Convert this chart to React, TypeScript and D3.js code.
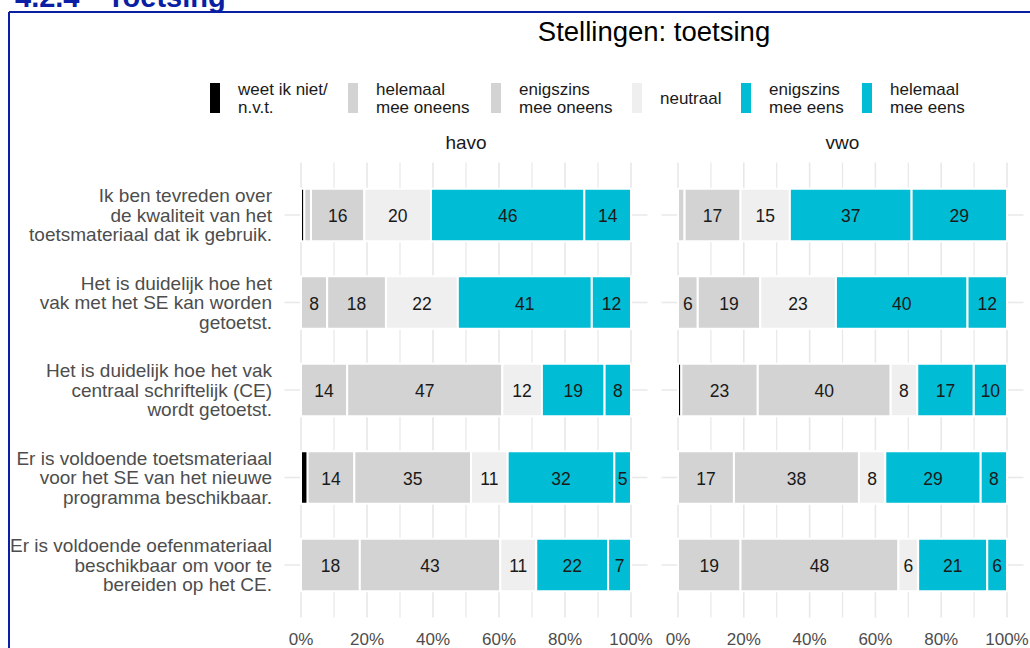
import React from "react";
import * as d3 from "d3";

const statements = [
  "Ik ben tevreden over\nde kwaliteit van het\ntoetsmateriaal dat ik gebruik.",
  "Het is duidelijk hoe het\nvak met het SE kan worden\ngetoetst.",
  "Het is duidelijk hoe het vak\ncentraal schriftelijk (CE)\nwordt getoetst.",
  "Er is voldoende toetsmateriaal\nvoor het SE van het nieuwe\nprogramma beschikbaar.",
  "Er is voldoende oefenmateriaal\nbeschikbaar om voor te\nbereiden op het CE.",
];

const categories = [
  "weet ik niet/\nn.v.t.",
  "helemaal\nmee oneens",
  "enigszins\nmee oneens",
  "neutraal",
  "enigszins\nmee eens",
  "helemaal\nmee eens",
];

const categoryColors = ["#000000", "#d3d3d3", "#d3d3d3", "#efefef", "#00bcd4", "#00bcd4"];

const groups = ["havo", "vwo"];

// rows = statements, columns = categories
const havoValues = [
  [1, 2, 16, 20, 46, 14],
  [0, 8, 18, 22, 41, 12],
  [0, 14, 47, 12, 19, 8],
  [2, 14, 35, 11, 32, 5],
  [0, 18, 43, 11, 22, 7],
];

const vwoValues = [
  [0, 2, 17, 15, 37, 29],
  [0, 6, 19, 23, 40, 12],
  [1, 23, 40, 8, 17, 10],
  [0, 17, 38, 8, 29, 8],
  [0, 19, 48, 6, 21, 6],
];

const xTicks = [0, 20, 40, 60, 80, 100];
const xMinor = [10, 30, 50, 70, 90];

const W = 1030;
const H = 648;
const FONT = "'Liberation Sans', Arial, sans-serif";

const panels = [
  { name: groups[0], values: havoValues, x0: 301, x1: 631 },
  { name: groups[1], values: vwoValues, x0: 678, x1: 1007 },
];

const panelTop = 162.5;
const panelBottom = 617.5;

const legendKeyX = [210, 348, 491, 632, 741, 862];

export default function App() {
  const y = d3.scalePoint<string>().domain(statements).range([panelTop, panelBottom]).padding(0.6);
  const step = y.step();
  const barH = step * 0.6;

  return (
    <div style={{ position: "fixed", left: 0, top: 0 }}>
      <svg width={W} height={H} style={{ display: "block", background: "#fff" }} fontFamily={FONT}>
        {/* document heading (clipped) */}
        <text x={15} y={7} fontSize={29} fontWeight="bold" fill="#0a1fa3">4.2.4</text>
        <text x={107} y={7} fontSize={29} fontWeight="bold" fill="#0a1fa3">Toetsing</text>
        <line x1={9} x2={W} y1={12} y2={12} stroke="#0a1fa3" strokeWidth={2} />
        <line x1={9} x2={9} y1={12} y2={H} stroke="#0a1fa3" strokeWidth={2} />

        {/* title */}
        <text x={654} y={41} fontSize={27.5} textAnchor="middle" fill="#000">Stellingen: toetsing</text>

        {/* legend */}
        {categories.map((c, i) => {
          const lines = c.split("\n");
          const kx = legendKeyX[i];
          return (
            <g key={c}>
              <rect x={kx} y={83} width={10} height={30} fill={categoryColors[i]} />
              {lines.map((l, j) => (
                <text
                  key={j}
                  x={kx + 28}
                  y={98.5 + (j - (lines.length - 1) / 2) * 18}
                  fontSize={17}
                  fill="#1a1a1a"
                  dominantBaseline="central"
                >
                  {l}
                </text>
              ))}
            </g>
          );
        })}

        {panels.map((p) => {
          const x = d3.scaleLinear().domain([0, 100]).range([p.x0, p.x1]);
          const pad = (p.x1 - p.x0) * 0.05;
          return (
            <g key={p.name}>
              {/* facet label */}
              <text
                x={(p.x0 + p.x1) / 2}
                y={142}
                fontSize={19}
                textAnchor="middle"
                dominantBaseline="central"
                fill="#1a1a1a"
              >
                {p.name}
              </text>
              {/* grid */}
              {xTicks.concat(xMinor).map((t) => (
                <line
                  key={"v" + t}
                  x1={x(t)}
                  x2={x(t)}
                  y1={panelTop}
                  y2={panelBottom}
                  stroke="#e8e8e8"
                  strokeWidth={xTicks.includes(t) ? 1.6 : 1.2}
                />
              ))}
              {statements.map((s) => (
                <line
                  key={"h" + s}
                  x1={p.x0 - pad}
                  x2={p.x1 + pad}
                  y1={y(s)}
                  y2={y(s)}
                  stroke="#e8e8e8"
                  strokeWidth={1.6}
                />
              ))}
              {/* bars */}
              {statements.map((s, si) => {
                const vals = p.values[si];
                const total = d3.sum(vals);
                let cum = 0;
                const cy = y(s) as number;
                return (
                  <g key={"b" + s}>
                    {vals.map((v, ci) => {
                      const start = (cum / total) * 100;
                      cum += v;
                      const end = (cum / total) * 100;
                      if (v <= 0) return null;
                      const xa = x(start);
                      const xb = x(end);
                      return (
                        <g key={ci}>
                          <rect
                            x={xa}
                            y={cy - barH / 2}
                            width={xb - xa}
                            height={barH}
                            fill={categoryColors[ci]}
                            stroke="#ffffff"
                            strokeWidth={2}
                          />
                          {v >= 4 && (
                            <text
                              x={(xa + xb) / 2}
                              y={cy + 1}
                              fontSize={17.5}
                              textAnchor="middle"
                              dominantBaseline="central"
                              fill="#1a1a1a"
                            >
                              {v}
                            </text>
                          )}
                        </g>
                      );
                    })}
                  </g>
                );
              })}
              {/* x axis labels */}
              {xTicks.map((t) => (
                <text key={"xl" + t} x={x(t)} y={645} fontSize={17} textAnchor="middle" fill="#4d4d4d">
                  {t + "%"}
                </text>
              ))}
            </g>
          );
        })}

        {/* y labels */}
        {statements.map((s) => {
          const lines = s.split("\n");
          const cy = y(s) as number;
          return (
            <g key={"yl" + s}>
              {lines.map((l, j) => (
                <text
                  key={j}
                  x={272}
                  y={cy + (j - (lines.length - 1) / 2) * 19.5}
                  fontSize={19}
                  textAnchor="end"
                  dominantBaseline="central"
                  fill="#4d4d4d"
                >
                  {l}
                </text>
              ))}
            </g>
          );
        })}
      </svg>
    </div>
  );
}
